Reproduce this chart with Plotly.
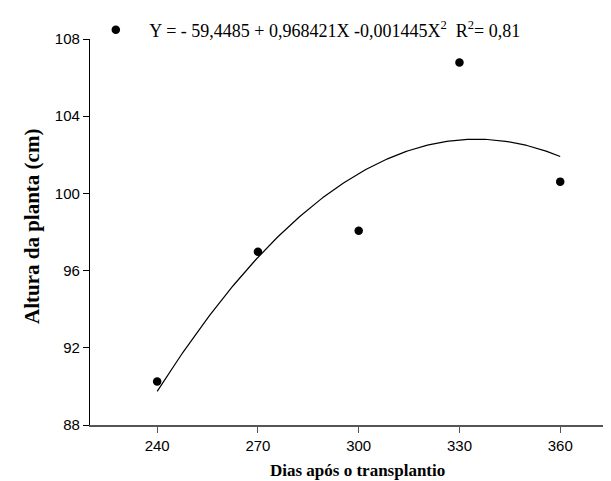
import numpy as np
import plotly.graph_objects as go

# Observed data
dias = [240, 270, 300, 330, 360]
altura = [90.25, 96.98, 98.07, 106.78, 100.61]

# Fitted regression coefficients shown in the chart
b0, b1, b2 = -59.4485, 0.968421, -0.001445
r2_label = "0,81"
eq_label = ("&nbsp;&nbsp;&nbsp;Y = - 59,4485 + 0,968421X -0,001445X<sup>2</sup>&nbsp;&nbsp;R<sup>2</sup>= " + r2_label)

x_ticks = [240, 270, 300, 330, 360]
y_ticks = [88, 92, 96, 100, 104, 108]
x_title = "Dias após o transplantio"
y_title = "Altura da planta (cm)"

xfit = np.linspace(min(dias), max(dias), 200)
yfit = b0 + b1 * xfit + b2 * xfit ** 2

fig = go.Figure()
fig.add_trace(go.Scatter(x=xfit, y=yfit, mode="lines",
                         line=dict(color="black", width=1.2),
                         showlegend=False, hoverinfo="skip"))
fig.add_trace(go.Scatter(x=dias, y=altura, mode="markers",
                         marker=dict(color="black", size=8.5),
                         name=eq_label, showlegend=True, cliponaxis=False))

serif = "Liberation Serif, Times New Roman, serif"
fig.update_layout(
    width=611, height=481,
    margin=dict(l=82, r=0, t=31, b=64),
    paper_bgcolor="white", plot_bgcolor="white",
    font=dict(family="Liberation Sans, Arial", color="black", size=13),
    legend=dict(x=0.011, y=1.023, xanchor="left", yanchor="middle",
                bgcolor="rgba(0,0,0,0)",
                font=dict(family=serif, size=18, color="black")),
    xaxis=dict(range=[220, 377.5], tickvals=x_ticks, ticks="outside", ticklen=6,
               tickcolor="#555", showline=True, linecolor="#555", linewidth=1.5,
               showgrid=False, zeroline=False,
               tickfont=dict(family="Liberation Sans, Arial", size=15)),
    yaxis=dict(range=[88, 108], tickvals=y_ticks, ticks="outside", ticklen=6,
               tickcolor="black", showline=True, linecolor="black", linewidth=1.2,
               showgrid=False, zeroline=False,
               tickfont=dict(family="Liberation Sans, Arial", size=15)),
    annotations=[
        dict(text="<b>" + x_title + "</b>", xref="paper", yref="paper",
             x=0.505, y=-0.117, xanchor="center", yanchor="middle",
             showarrow=False, font=dict(family=serif, size=17)),
        dict(text="<b>" + y_title + "</b>", xref="paper", yref="paper",
             x=-0.11, y=0.515, xanchor="center", yanchor="middle",
             textangle=-90, showarrow=False, font=dict(family=serif, size=21)),
    ],
)

fig.write_html("out.html")
